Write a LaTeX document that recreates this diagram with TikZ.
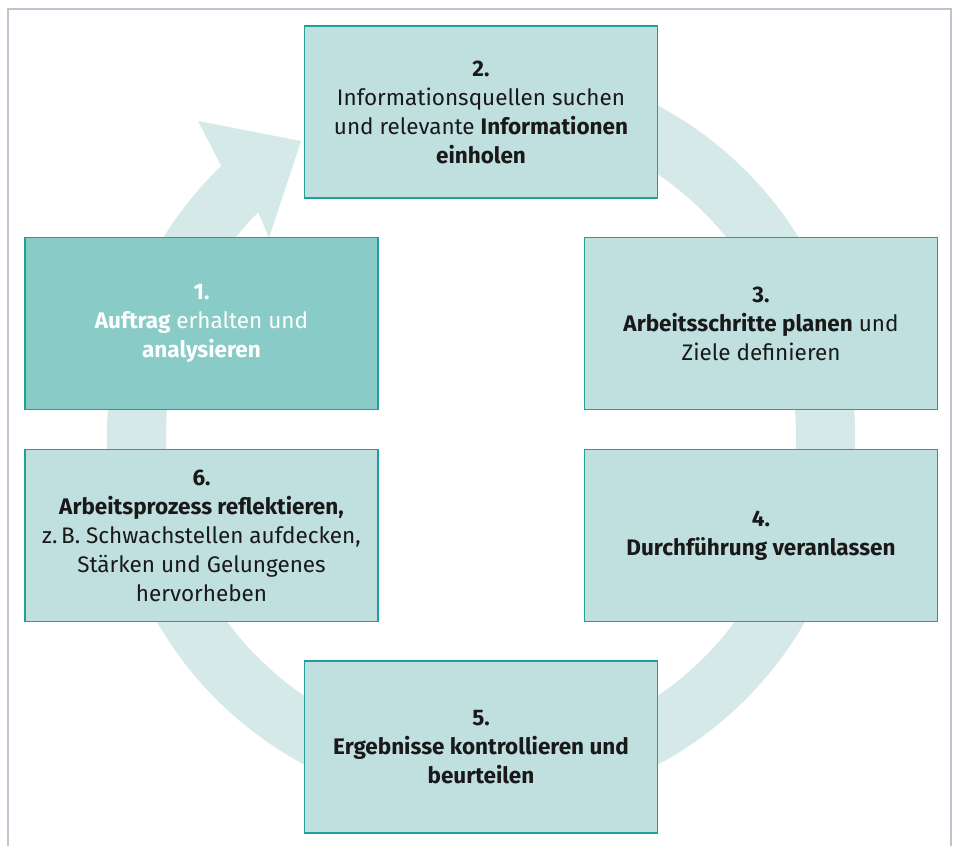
\documentclass[tikz,border=0pt]{standalone}
\usepackage{fontspec}
\setmainfont{Fira Sans}
\usetikzlibrary{calc}
\definecolor{boxfill}{HTML}{BFE0DF}
\definecolor{boxfirst}{HTML}{88CBC7}
\definecolor{boxline}{HTML}{1FA098}
\definecolor{ringfill}{HTML}{D5EAE8}
\definecolor{framegray}{HTML}{BFC3CF}
\begin{document}
\begin{tikzpicture}[x=1pt,y=1pt,
	stepbox/.style={rectangle,draw=boxline,line width=1.3pt,fill=boxfill,
	minimum width=353pt,minimum height=172pt,align=center,inner sep=2pt,
	font=\fontsize{22.5}{29}\selectfont,text=black!90},
	firstbox/.style={stepbox,fill=boxfirst,text=white}]
\useasboundingbox (0,0) rectangle (954,846);
\coordinate (c) at (481,411);
% frame
\draw[framegray,line width=2pt] (8,0) -- (8,837) -- (951,837) -- (951,0);
% cycle arrow
\fill[ringfill] ($(c)+(110:374)$) arc[start angle=110,end angle=-226,radius=374]
	-- (198,725) -- (301,705) -- (269,608)
	-- ($(c)+(-225:315)$) arc[start angle=-225,end angle=110,radius=315] -- cycle;
% steps
\node[firstbox] (auftrag) at (201.5,522.5) {\textbf{1.}\\\textbf{Auftrag} erhalten und\\\textbf{analysieren}};
\node[stepbox] (info) at (481,734) {\textbf{2.}\\Informationsquellen suchen\\und relevante \textbf{Informationen}\\\textbf{einholen}};
\node[stepbox] (planen) at (761,522.5) {\textbf{3.}\\\textbf{Arbeitsschritte planen} und\\Ziele definieren};
\node[stepbox] (durchf) at (761,310.5) {\textbf{4.}\\\textbf{Durchführung veranlassen}};
\node[stepbox] (kontrolle) at (481,99) {\textbf{5.}\\\textbf{Ergebnisse kontrollieren und}\\\textbf{beurteilen}};
\node[stepbox] (reflex) at (201.5,310.5) {\textbf{6.}\\\textbf{Arbeitsprozess reflektieren,}\\z.\,B. Schwachstellen aufdecken,\\Stärken und Gelungenes\\hervorheben};
\end{tikzpicture}
\end{document}
